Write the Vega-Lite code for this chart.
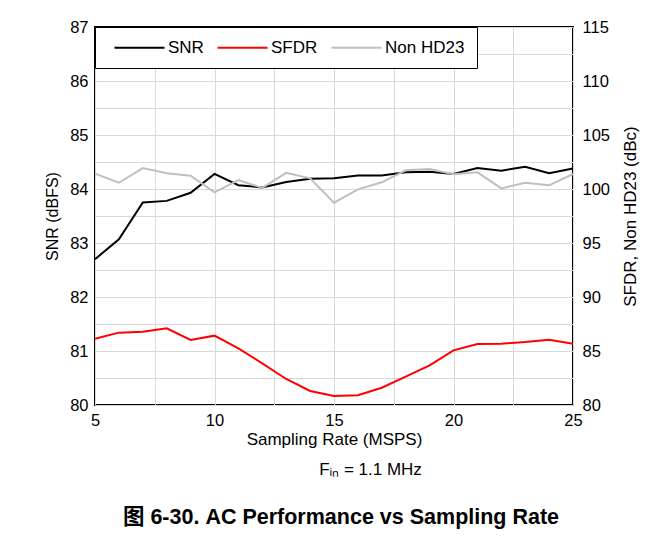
{
  "$schema": "https://vega.github.io/schema/vega-lite/v6.json",
  "width": 478,
  "height": 378,
  "autosize": {"type": "none"},
  "padding": {"left": 95, "top": 27, "right": 92, "bottom": 131},
  "background": "white",
  "config": {
    "font": "Liberation Sans",
    "view": {"stroke": "black", "strokeWidth": 2},
    "axis": {
      "labelFont": "Liberation Sans",
      "titleFont": "Liberation Sans",
      "labelFontSize": 16.5,
      "titleFontSize": 17,
      "titleFontWeight": "normal",
      "labelColor": "#000",
      "titleColor": "#000",
      "ticks": false,
      "domain": false,
      "gridColor": "#d9d9d9",
      "gridWidth": 1,
      "gridOpacity": 1
    },
    "legend": {
      "labelFont": "Liberation Sans",
      "labelFontSize": 17,
      "labelColor": "#000"
    }
  },
  "title": {
    "text": "图 6-30. AC Performance vs Sampling Rate",
    "orient": "bottom",
    "anchor": "middle",
    "offset": 29,
    "dx": 7,
    "font": "Liberation Sans, Noto Sans CJK SC",
    "fontSize": 21.5,
    "fontWeight": "bold",
    "color": "#000"
  },
  "data": {
    "values": [
      {"x": 5, "series": "SNR", "value": 82.70},
      {"x": 6, "series": "SNR", "value": 83.07},
      {"x": 7, "series": "SNR", "value": 83.75},
      {"x": 8, "series": "SNR", "value": 83.78},
      {"x": 9, "series": "SNR", "value": 83.93},
      {"x": 10, "series": "SNR", "value": 84.28},
      {"x": 11, "series": "SNR", "value": 84.07},
      {"x": 12, "series": "SNR", "value": 84.03},
      {"x": 13, "series": "SNR", "value": 84.13},
      {"x": 14, "series": "SNR", "value": 84.19},
      {"x": 15, "series": "SNR", "value": 84.20},
      {"x": 16, "series": "SNR", "value": 84.25},
      {"x": 17, "series": "SNR", "value": 84.25},
      {"x": 18, "series": "SNR", "value": 84.31},
      {"x": 19, "series": "SNR", "value": 84.32},
      {"x": 20, "series": "SNR", "value": 84.28},
      {"x": 21, "series": "SNR", "value": 84.39},
      {"x": 22, "series": "SNR", "value": 84.34},
      {"x": 23, "series": "SNR", "value": 84.41},
      {"x": 24, "series": "SNR", "value": 84.29},
      {"x": 25, "series": "SNR", "value": 84.38},
      {"x": 5, "series": "SFDR", "value": 86.14},
      {"x": 6, "series": "SFDR", "value": 86.70},
      {"x": 7, "series": "SFDR", "value": 86.79},
      {"x": 8, "series": "SFDR", "value": 87.10},
      {"x": 9, "series": "SFDR", "value": 86.02},
      {"x": 10, "series": "SFDR", "value": 86.42},
      {"x": 11, "series": "SFDR", "value": 85.25},
      {"x": 12, "series": "SFDR", "value": 83.86},
      {"x": 13, "series": "SFDR", "value": 82.41},
      {"x": 14, "series": "SFDR", "value": 81.30},
      {"x": 15, "series": "SFDR", "value": 80.84},
      {"x": 16, "series": "SFDR", "value": 80.90},
      {"x": 17, "series": "SFDR", "value": 81.60},
      {"x": 18, "series": "SFDR", "value": 82.62},
      {"x": 19, "series": "SFDR", "value": 83.67},
      {"x": 20, "series": "SFDR", "value": 85.06},
      {"x": 21, "series": "SFDR", "value": 85.65},
      {"x": 22, "series": "SFDR", "value": 85.68},
      {"x": 23, "series": "SFDR", "value": 85.83},
      {"x": 24, "series": "SFDR", "value": 86.05},
      {"x": 25, "series": "SFDR", "value": 85.68},
      {"x": 5, "series": "Non HD23", "value": 101.42},
      {"x": 6, "series": "Non HD23", "value": 100.58},
      {"x": 7, "series": "Non HD23", "value": 101.94},
      {"x": 8, "series": "Non HD23", "value": 101.45},
      {"x": 9, "series": "Non HD23", "value": 101.23},
      {"x": 10, "series": "Non HD23", "value": 99.69},
      {"x": 11, "series": "Non HD23", "value": 100.83},
      {"x": 12, "series": "Non HD23", "value": 100.10},
      {"x": 13, "series": "Non HD23", "value": 101.50},
      {"x": 14, "series": "Non HD23", "value": 100.99},
      {"x": 15, "series": "Non HD23", "value": 98.73},
      {"x": 16, "series": "Non HD23", "value": 99.97},
      {"x": 17, "series": "Non HD23", "value": 100.62},
      {"x": 18, "series": "Non HD23", "value": 101.73},
      {"x": 19, "series": "Non HD23", "value": 101.85},
      {"x": 20, "series": "Non HD23", "value": 101.36},
      {"x": 21, "series": "Non HD23", "value": 101.54},
      {"x": 22, "series": "Non HD23", "value": 100.06},
      {"x": 23, "series": "Non HD23", "value": 100.58},
      {"x": 24, "series": "Non HD23", "value": 100.34},
      {"x": 25, "series": "Non HD23", "value": 101.39}
    ]
  },
  "encoding": {
    "x": {
      "field": "x",
      "type": "quantitative",
      "scale": {"domain": [5, 25], "nice": false, "zero": false},
      "axis": {
        "title": ["Sampling Rate (MSPS)", "\u2800\u2800\u2800\u2800\u2800\u2800Fᵢₙ = 1.1 MHz"],
        "titleLineHeight": 30,
        "values": [5, 7.5, 10, 12.5, 15, 17.5, 20, 22.5, 25],
        "labelExpr": "datum.value % 5 === 0 ? datum.label : ''",
        "labelPadding": 7,
        "titlePadding": 3,
        "labelFlush": false
      }
    },
    "color": {
      "field": "series",
      "type": "nominal",
      "scale": {"domain": ["SNR", "SFDR", "Non HD23"], "range": ["#000000", "#ff0000", "#bfbfbf"]},
      "legend": {
        "title": null,
        "orient": "top-left",
        "offset": 0,
        "direction": "horizontal",
        "padding": 12,
        "columnPadding": 6,
        "labelOffset": 20,
        "symbolType": "M-4,0H4",
        "symbolSize": 156.25,
        "symbolStrokeWidth": 2,
        "symbolOffset": 24,
        "fillColor": "white",
        "strokeColor": "black"
      }
    }
  },
  "layer": [
    {
      "transform": [{"filter": "datum.series === 'SNR'"}],
      "mark": {"type": "line", "strokeWidth": 2},
      "encoding": {
        "y": {
          "field": "value",
          "type": "quantitative",
          "scale": {"domain": [80, 87], "nice": false, "zero": false},
          "axis": {
            "title": "SNR (dBFS)",
            "titleFontSize": 16,
            "orient": "left",
            "values": [80, 80.5, 81, 81.5, 82, 82.5, 83, 83.5, 84, 84.5, 85, 85.5, 86, 86.5, 87],
            "labelExpr": "datum.value % 1 === 0 ? format(datum.value, 'd') : ''",
            "labelPadding": 7,
            "titlePadding": 9
          }
        }
      }
    },
    {
      "transform": [{"filter": "datum.series !== 'SNR'"}],
      "mark": {"type": "line", "strokeWidth": 2},
      "encoding": {
        "y": {
          "field": "value",
          "type": "quantitative",
          "scale": {"domain": [80, 115], "nice": false, "zero": false},
          "axis": {
            "title": "SFDR, Non HD23 (dBc)",
            "titleAngle": 270,
            "titleBaseline": "top",
            "orient": "right",
            "values": [80, 85, 90, 95, 100, 105, 110, 115],
            "grid": false,
            "labelPadding": 9,
            "titlePadding": 13
          }
        }
      }
    }
  ],
  "resolve": {"scale": {"y": "independent"}, "axis": {"y": "independent"}}
}
